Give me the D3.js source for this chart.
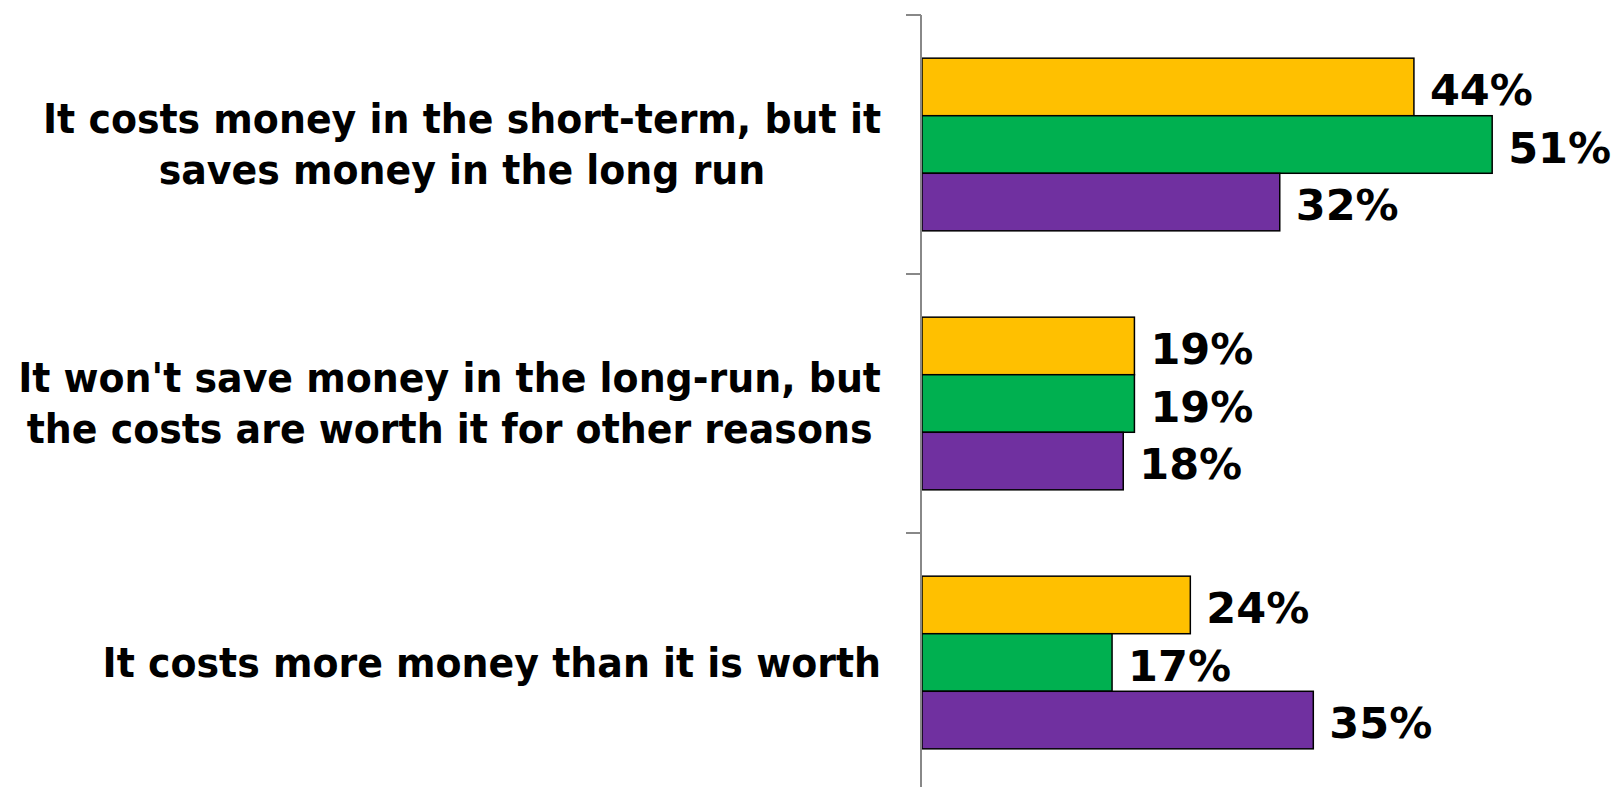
<!DOCTYPE html>
<html>
<head>
<meta charset="utf-8">
<script src="https://cdn.jsdelivr.net/npm/d3@7"></script>
<style>
  html, body { margin: 0; padding: 0; background: #fff; }
  svg { display: block; }
</style>
</head>
<body>
<div id="chart"></div>
<script>
// Chart data
const categories = [
    ["It costs money in the short-term, but it", "saves money in the long run"],
    ["It won't save money in the long-run, but", "the costs are worth it for other reasons"],
    ["It costs more money than it is worth"]
];
const seriesNames = ["Series 1", "Series 2", "Series 3"];
const seriesColors = ["#FFC000", "#00B050", "#7030A0"];
const values = [
    [0.44, 0.51, 0.32],
    [0.19, 0.19, 0.18],
    [0.24, 0.17, 0.35]
];

const width = 1616, height = 787;
const margin = { top: 15, right: 20, bottom: -5, left: 922 };
const labelRight = 881;

const svg = d3.select("#chart")
    .append("svg")
    .attr("width", width)
    .attr("height", height);

// Scales
const y = d3.scaleBand()
    .domain(d3.range(categories.length))
    .range([margin.top, height - margin.bottom])
    .paddingInner(0)
    .paddingOuter(0);

const inner = d3.scaleBand()
    .domain(d3.range(seriesNames.length))
    .range([0, y.bandwidth()])
    .paddingInner(0)
    .paddingOuter(0.75);

const x = d3.scaleLinear()
    .domain([0, 0.6])
    .range([margin.left, margin.left + 670.8]);

// Bars
const groups = svg.selectAll(".cat")
    .data(values)
    .join("g")
    .attr("class", "cat")
    .attr("transform", (d, i) => `translate(0,${y(i)})`);

groups.selectAll("rect")
    .data(d => d)
    .join("rect")
    .attr("x", x(0))
    .attr("y", (d, j) => inner(j))
    .attr("width", d => x(d) - x(0))
    .attr("height", inner.bandwidth())
    .attr("fill", (d, j) => seriesColors[j])
    .attr("stroke", "#000")
    .attr("stroke-width", 1.5);

// Value labels
groups.selectAll(".val")
    .data(d => d)
    .join("text")
    .attr("class", "val")
    .attr("x", d => x(d) + 16)
    .attr("y", (d, j) => inner(j) + inner.bandwidth() / 2)
    .attr("dy", "0.42em")
    .style("font-family", "'DejaVu Sans', Verdana, sans-serif")
    .style("font-weight", "bold")
    .style("font-size", "43px")
    .text(d => d3.format(".0%")(d));

// Category axis
const axis = svg.append("g")
    .attr("transform", `translate(${x(0) - 1},0)`);
axis.append("line")
    .attr("y1", margin.top).attr("y2", height - margin.bottom)
    .attr("stroke", "#888").attr("stroke-width", 2);
axis.selectAll(".sep")
    .data(d3.range(categories.length + 1))
    .join("line")
    .attr("class", "sep")
    .attr("x1", -15).attr("x2", 0)
    .attr("y1", i => margin.top + i * y.step())
    .attr("y2", i => margin.top + i * y.step())
    .attr("stroke", "#888").attr("stroke-width", 2);

// Category labels (lines centred on each other, block right-aligned)
const lineHeight = 51.5;
const labels = svg.selectAll(".cat-label")
    .data(categories)
    .join("text")
    .attr("class", "cat-label")
    .attr("text-anchor", "middle")
    .style("font-family", "'DejaVu Sans', Verdana, sans-serif")
    .style("font-weight", "bold")
    .style("font-size", "41px");

labels.each(function(lines, i) {
    const cy = y(i) + y.bandwidth() / 2;
    const first = cy + 14 - (lines.length - 1) * lineHeight / 2;
    d3.select(this).selectAll("tspan")
        .data(lines)
        .join("tspan")
        .attr("y", (d, k) => first + k * lineHeight)
        .text(d => d);
});

// Squeeze labels horizontally to match the narrower original face
const ref = labels.filter((d, i) => i === 0).select("tspan").node();
const squeeze = 838 / ref.getComputedTextLength();
labels.each(function() {
    const spans = d3.select(this).selectAll("tspan");
    const widths = spans.nodes().map(n => n.getComputedTextLength() * squeeze);
    const cx = labelRight - d3.max(widths) / 2;
    spans
        .attr("x", cx)
        .attr("textLength", (d, k) => widths[k])
        .attr("lengthAdjust", "spacingAndGlyphs");
});
</script>
</body>
</html>
